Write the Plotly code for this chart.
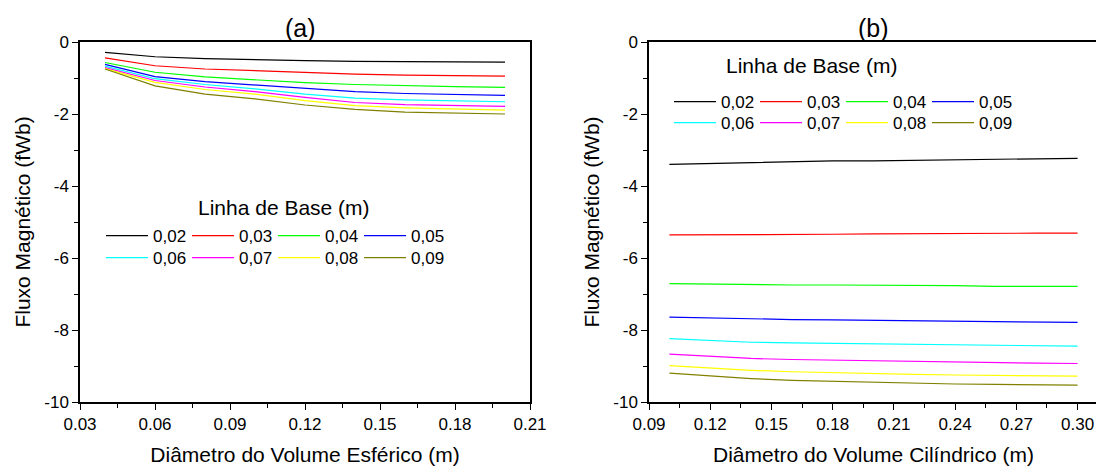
import plotly.graph_objects as go

# ---------------- data ----------------
labels = ["0,02", "0,03", "0,04", "0,05", "0,06", "0,07", "0,08", "0,09"]
colors = ["#000000", "#FF0000", "#00FF00", "#0000FF", "#00FFFF", "#FF00FF", "#FFFF00", "#808000"]

x_a = [0.04, 0.06, 0.08, 0.10, 0.12, 0.14, 0.16, 0.18, 0.20]
a_002 = [-0.29, -0.41, -0.46, -0.50, -0.52, -0.54, -0.55, -0.555, -0.56]
a_003 = [-0.44, -0.66, -0.75, -0.80, -0.85, -0.89, -0.92, -0.94, -0.95]
a_004 = [-0.57, -0.84, -0.97, -1.06, -1.13, -1.18, -1.22, -1.24, -1.26]
a_005 = [-0.62, -0.96, -1.10, -1.19, -1.30, -1.38, -1.43, -1.46, -1.48]
a_006 = [-0.67, -1.02, -1.18, -1.30, -1.45, -1.56, -1.61, -1.64, -1.66]
a_007 = [-0.71, -1.07, -1.25, -1.38, -1.54, -1.68, -1.74, -1.77, -1.79]
a_008 = [-0.74, -1.12, -1.32, -1.45, -1.63, -1.77, -1.83, -1.87, -1.89]
a_009 = [-0.75, -1.22, -1.45, -1.58, -1.75, -1.87, -1.95, -1.98, -2.00]

x_b = [0.10, 0.12, 0.14, 0.16, 0.18, 0.20, 0.22, 0.24, 0.26, 0.28, 0.30]
b_002 = [-3.40, -3.37, -3.35, -3.32, -3.30, -3.30, -3.29, -3.27, -3.26, -3.25, -3.23]
b_003 = [-5.36, -5.36, -5.36, -5.35, -5.34, -5.33, -5.32, -5.32, -5.32, -5.31, -5.31]
b_004 = [-6.71, -6.73, -6.75, -6.75, -6.75, -6.75, -6.76, -6.77, -6.79, -6.79, -6.79]
b_005 = [-7.64, -7.67, -7.70, -7.71, -7.72, -7.73, -7.74, -7.74, -7.75, -7.77, -7.79]
b_006 = [-8.24, -8.29, -8.34, -8.36, -8.37, -8.38, -8.40, -8.41, -8.42, -8.44, -8.45]
b_007 = [-8.67, -8.73, -8.79, -8.82, -8.84, -8.86, -8.88, -8.89, -8.90, -8.92, -8.93]
b_008 = [-8.99, -9.06, -9.12, -9.16, -9.19, -9.21, -9.23, -9.25, -9.26, -9.27, -9.28]
b_009 = [-9.20, -9.28, -9.35, -9.40, -9.43, -9.46, -9.48, -9.50, -9.51, -9.52, -9.53]

series_a = [a_002, a_003, a_004, a_005, a_006, a_007, a_008, a_009]
series_b = [b_002, b_003, b_004, b_005, b_006, b_007, b_008, b_009]

y_tickvals = [0, -2, -4, -6, -8, -10]
y_ticktext = ["0", "-2", "-4", "-6", "-8", "-10"]

legend_title = "Linha de Base (m)"
title_a = "(a)"
title_b = "(b)"
xtitle_a = "Diâmetro do Volume Esférico (m)"
xtitle_b = "Diâmetro do Volume Cilíndrico (m)"
ytitle = "Fluxo Magnético (fWb)"

# ---------------- figure ----------------
FONT = "Arial, Liberation Sans, sans-serif"
OFF = 8  # page body margin
W, H = 1104 - OFF, 468 - OFF

fig = go.Figure()
for i, (lab, col) in enumerate(zip(labels, colors)):
    fig.add_trace(go.Scatter(x=x_a, y=series_a[i], mode="lines", name=lab,
                             line=dict(color=col, width=1.2),
                             xaxis="x", yaxis="y",
                             legend="legend" if i < 4 else "legend2"))
for i, (lab, col) in enumerate(zip(labels, colors)):
    fig.add_trace(go.Scatter(x=x_b, y=series_b[i], mode="lines", name=lab,
                             line=dict(color=col, width=1.2),
                             xaxis="x2", yaxis="y2",
                             legend="legend3" if i < 4 else "legend4"))


def px_x(p):
    return (p - OFF) / W


def px_y(p):
    return 1 - (p - OFF) / H


ax_common = dict(showline=True, linecolor="black", linewidth=1.5, mirror=True,
                 ticks="outside", ticklen=6, tickwidth=1.3, tickcolor="black",
                 showgrid=False, zeroline=False, automargin=False,
                 tickfont=dict(family=FONT, size=17, color="black"))

xa = dict(ax_common, domain=[px_x(80), px_x(530)], range=[0.03, 0.21],
          tickmode="linear", tick0=0.03, dtick=0.03, tickformat=".2f",
          minor=dict(ticks="outside", ticklen=4, tickwidth=1.3, tickcolor="black",
                     tickmode="linear", tick0=0.03, dtick=0.015, showgrid=False),
          title=dict(text=xtitle_a, font=dict(family=FONT, size=21, color="black"), standoff=14),
          anchor="y")
xb = dict(ax_common, domain=[px_x(649), px_x(1098)], range=[0.09, 0.31],
          tickmode="linear", tick0=0.09, dtick=0.03, tickformat=".2f",
          minor=dict(ticks="outside", ticklen=4, tickwidth=1.3, tickcolor="black",
                     tickmode="linear", tick0=0.09, dtick=0.015, showgrid=False),
          title=dict(text=xtitle_b, font=dict(family=FONT, size=21, color="black"), standoff=14),
          anchor="y2")
ya = dict(ax_common, domain=[px_y(402), px_y(42)], range=[-10, 0],
          tickmode="array", tickvals=y_tickvals, ticktext=y_ticktext,
          minor=dict(ticks="outside", ticklen=4, tickwidth=1.3, tickcolor="black",
                     tickmode="linear", tick0=0, dtick=1, showgrid=False),
          title=dict(text=ytitle, font=dict(family=FONT, size=21, color="black"), standoff=8),
          anchor="x")
yb = dict(ya, anchor="x2")

leg_common = dict(orientation="h", xanchor="left", yanchor="top", bgcolor="rgba(0,0,0,0)",
                  font=dict(family=FONT, size=17, color="black"),
                  itemwidth=42, entrywidth=29, entrywidthmode="pixels",
                  traceorder="normal", borderwidth=0, tracegroupgap=0)

fig.update_layout(
    width=W, height=H,
    margin=dict(l=0, r=0, t=0, b=0),
    paper_bgcolor="white", plot_bgcolor="white",
    template="none",
    font=dict(family=FONT, color="black"),
    xaxis=xa, yaxis=ya, xaxis2=xb, yaxis2=yb,
    legend=dict(leg_common, x=px_x(101), y=px_y(218)),
    legend2=dict(leg_common, x=px_x(101), y=px_y(240)),
    legend3=dict(leg_common, x=px_x(669), y=px_y(84)),
    legend4=dict(leg_common, x=px_x(669), y=px_y(105)),
    annotations=[
        dict(text=title_a, x=px_x(300), y=px_y(28), xref="paper", yref="paper",
             showarrow=False, xanchor="center", yanchor="middle",
             font=dict(family=FONT, size=25, color="black")),
        dict(text=title_b, x=px_x(873), y=px_y(28), xref="paper", yref="paper",
             showarrow=False, xanchor="center", yanchor="middle",
             font=dict(family=FONT, size=25, color="black")),
        dict(text=legend_title, x=px_x(196), y=px_y(208), xref="paper", yref="paper",
             showarrow=False, xanchor="left", yanchor="middle",
             font=dict(family=FONT, size=21, color="black")),
        dict(text=legend_title, x=px_x(724), y=px_y(65), xref="paper", yref="paper",
             showarrow=False, xanchor="left", yanchor="middle",
             font=dict(family=FONT, size=21, color="black")),
    ],
)

fig.write_html("out.html")
